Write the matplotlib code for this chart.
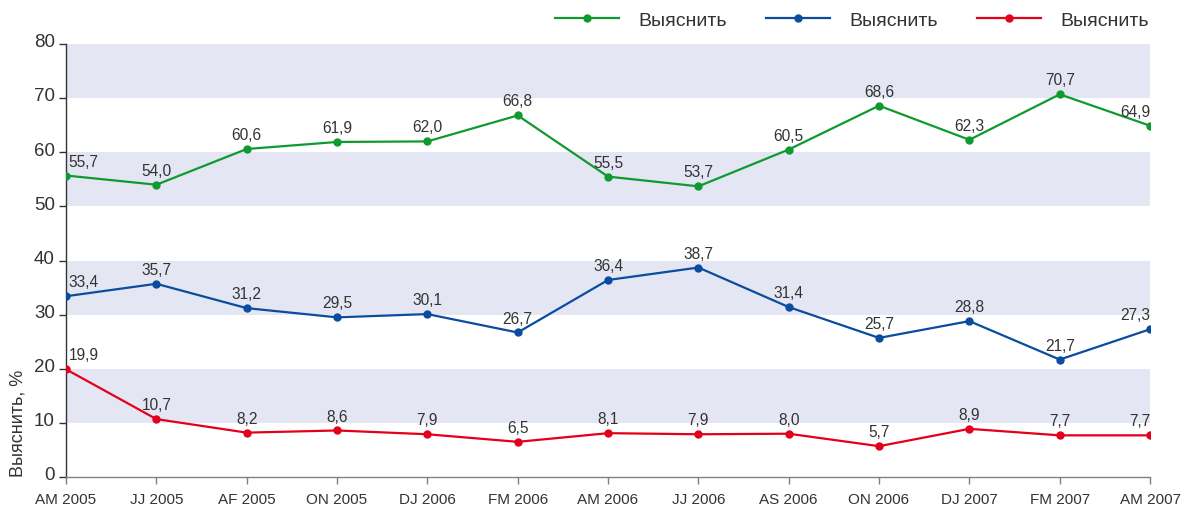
import matplotlib
matplotlib.use("Agg")
import matplotlib.pyplot as plt
import matplotlib.transforms as mtransforms

plt.rcParams['font.family'] = ['Liberation Sans', 'DejaVu Sans']

periods = ["AM 2005", "JJ 2005", "AF 2005", "ON 2005", "DJ 2006", "FM 2006",
           "AM 2006", "JJ 2006", "AS 2006", "ON 2006", "DJ 2007", "FM 2007", "AM 2007"]
green_vals = [55.7, 54.0, 60.6, 61.9, 62.0, 66.8, 55.5, 53.7, 60.5, 68.6, 62.3, 70.7, 64.9]
blue_vals = [33.4, 35.7, 31.2, 29.5, 30.1, 26.7, 36.4, 38.7, 31.4, 25.7, 28.8, 21.7, 27.3]
red_vals = [19.9, 10.7, 8.2, 8.6, 7.9, 6.5, 8.1, 7.9, 8.0, 5.7, 8.9, 7.7, 7.7]
series_names = ["Выяснить", "Выяснить", "Выяснить"]
colors = ["#0F9A30", "#0A4C9E", "#E3001B"]

fig = plt.figure(figsize=(11.94, 5.10), dpi=100)
ax = fig.add_axes([0.0553, 0.0627, 0.9079, 0.8491])

x = list(range(len(periods)))

# полосы фона
for lo in (10, 30, 50, 70):
    ax.axhspan(lo, lo + 10, color="#E4E7F3", lw=0, zorder=0)

lines = []
for vals, col, name in zip([green_vals, blue_vals, red_vals], colors, series_names):
    ln, = ax.plot(x, vals, color=col, lw=1.6, marker="o", markersize=5, label=name, zorder=3)
    lines.append(ln)
    for i, v in enumerate(vals):
        txt = "{:.1f}".format(v).replace(".", ",")
        if i == 0:
            ha, dx = "left", 2
        elif i == len(vals) - 1:
            ha, dx = "right", 0
        else:
            ha, dx = "center", 0
        ax.annotate(txt, (i, v), xytext=(dx, 5), textcoords="offset points",
                    ha=ha, va="bottom", fontsize=11.2, color="#333333", zorder=4)

ax.set_xlim(0, 12)
ax.set_ylim(0, 80)
ax.set_yticks(range(0, 81, 10))
ax.set_xticks(x)
ax.set_xticklabels(periods)

for s in ("top", "right"):
    ax.spines[s].set_visible(False)
ax.spines["left"].set_color("#333333")
ax.spines["left"].set_linewidth(1.0)
ax.spines["bottom"].set_color("#808080")
ax.spines["bottom"].set_linewidth(1.0)

ax.tick_params(axis="y", length=5, width=1, colors="#333333", labelsize=13.5, pad=3)
ax.tick_params(axis="x", length=5, width=1, color="#808080", labelcolor="#333333",
               labelsize=11, pad=6)

offset = mtransforms.ScaledTranslation(0, 3 / 72, fig.dpi_scale_trans)
for lab in ax.get_yticklabels():
    lab.set_transform(lab.get_transform() + offset)

# подпись оси Y снизу, у самого нуля
fig.text(18 / 1194, 1 - 477 / 510, "Выяснить, %", rotation=90, ha="center", va="bottom",
         fontsize=13, color="#333333")

fig.legend(handles=lines, loc="upper right", bbox_to_anchor=(0.977, 1.01), ncol=3,
           frameon=False, fontsize=14, handlelength=3.3, handletextpad=1.0,
           columnspacing=2.0, labelcolor="#333333")

fig.savefig("out.png", dpi=100)
